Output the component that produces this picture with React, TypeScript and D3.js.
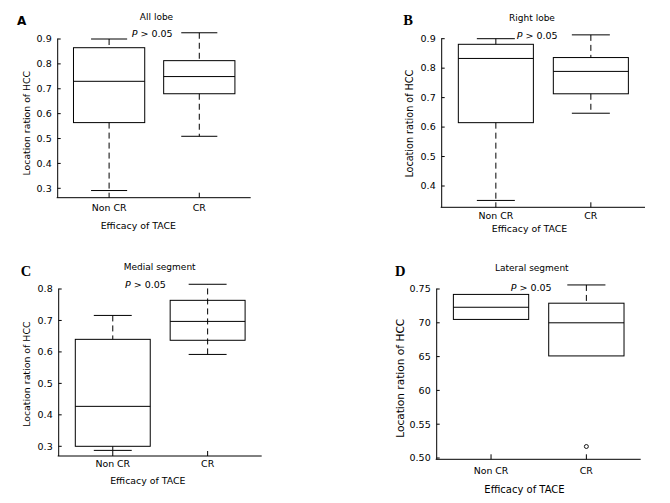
import React from "react";
import * as d3 from "d3";

// ---- data ----
const categories = ["Non CR", "CR"];
// [min, q1, median, q3, max]
const allLobeNonCR = [0.291, 0.564, 0.73, 0.865, 0.9];
const allLobeCR = [0.509, 0.68, 0.749, 0.813, 0.925];
const rightLobeNonCR = [0.351, 0.615, 0.833, 0.881, 0.9];
const rightLobeCR = [0.647, 0.713, 0.789, 0.836, 0.913];
const medialNonCR = [0.287, 0.3, 0.427, 0.64, 0.716];
const medialCR = [0.592, 0.637, 0.697, 0.764, 0.815];
const lateralNonCR = [0.705, 0.705, 0.723, 0.742, 0.742];
const lateralCR = [0.651, 0.651, 0.7, 0.729, 0.756];
const lateralCROutliers = [0.517];

const allLobeTicks = [0.3, 0.4, 0.5, 0.6, 0.7, 0.8, 0.9];
const allLobeTickLabels = ["0.3", "0.4", "0.5", "0.6", "0.7", "0.8", "0.9"];
const rightLobeTicks = [0.4, 0.5, 0.6, 0.7, 0.8, 0.9];
const rightLobeTickLabels = ["0.4", "0.5", "0.6", "0.7", "0.8", "0.9"];
const medialTicks = [0.3, 0.4, 0.5, 0.6, 0.7, 0.8];
const medialTickLabels = ["0.3", "0.4", "0.5", "0.6", "0.7", "0.8"];
const lateralTicks = [0.5, 0.55, 0.6, 0.65, 0.7, 0.75];
const lateralTickLabels = ["0.50", "0.55", "60", "65", "70", "0.75"];

const panelLetters = ["A", "B", "C", "D"];
const panelTitles = ["All lobe", "Right lobe", "Medial segment", "Lateral segment"];
const pText = "> 0.05";
const yTitle = "Location ration of HCC";
const xTitle = "Efficacy of TACE";

const FONT = "DejaVu Sans, Verdana, sans-serif";

type Panel = {
  letter: string; letterFont: string; letterSize: number; letterX: number; letterY: number;
  title: string; titleX: number; titleY: number;
  pX: number; pY: number;
  left: number; right: number; axisY: number;
  tickDomain: [number, number]; tickRange: [number, number];
  ticks: number[]; tickLabels: string[];
  boxes: number[][]; through: boolean[]; outliers: number[][];
  yLabelX: number; yLabelY: number; yLabelSize: number;
  xLabelX: number; xLabelY: number; xLabelSize: number;
  catLabelY: number;
};

const panels: Panel[] = [
  {
    letter: panelLetters[0], letterFont: "DejaVu Sans, sans-serif", letterSize: 12, letterX: 17, letterY: 25.3,
    title: panelTitles[0], titleX: 156.5, titleY: 20,
    pX: 131.7, pY: 36.5,
    left: 57.7, right: 250.7, axisY: 197.7,
    tickDomain: [0.3, 0.9], tickRange: [188.3, 39],
    ticks: allLobeTicks, tickLabels: allLobeTickLabels,
    boxes: [allLobeNonCR, allLobeCR], through: [false, false], outliers: [[], []],
    yLabelX: 26.7, yLabelY: 123.2, yLabelSize: 9.3,
    xLabelX: 138.3, xLabelY: 229, xLabelSize: 9.4,
    catLabelY: 211,
  },
  {
    letter: panelLetters[1], letterFont: "Liberation Serif, Times New Roman, serif", letterSize: 14.5, letterX: 403.3, letterY: 25,
    title: panelTitles[1], titleX: 532, titleY: 20.7,
    pX: 516.7, pY: 39.3,
    left: 441.7, right: 645, axisY: 207.3,
    tickDomain: [0.4, 0.9], tickRange: [186, 38.7],
    ticks: rightLobeTicks, tickLabels: rightLobeTickLabels,
    boxes: [rightLobeNonCR, rightLobeCR], through: [false, false], outliers: [[], []],
    yLabelX: 410, yLabelY: 123.7, yLabelSize: 9.6,
    xLabelX: 529.5, xLabelY: 232, xLabelSize: 9.4,
    catLabelY: 219,
  },
  {
    letter: panelLetters[2], letterFont: "Liberation Serif, Times New Roman, serif", letterSize: 14.5, letterX: 20.7, letterY: 276,
    title: panelTitles[2], titleX: 159.7, titleY: 270,
    pX: 125, pY: 288.3,
    left: 58.7, right: 261.7, axisY: 456,
    tickDomain: [0.3, 0.8], tickRange: [446.3, 289],
    ticks: medialTicks, tickLabels: medialTickLabels,
    boxes: [medialNonCR, medialCR], through: [false, true], outliers: [[], []],
    yLabelX: 26.7, yLabelY: 374.2, yLabelSize: 9.4,
    xLabelX: 147.8, xLabelY: 484, xLabelSize: 9.4,
    catLabelY: 467,
  },
  {
    letter: panelLetters[3], letterFont: "Liberation Serif, Times New Roman, serif", letterSize: 14.5, letterX: 395, letterY: 275.7,
    title: panelTitles[3], titleX: 531.8, titleY: 270.7,
    pX: 510.7, pY: 290.7,
    left: 436.7, right: 640.7, axisY: 459.3,
    tickDomain: [0.5, 0.75], tickRange: [458, 289],
    ticks: lateralTicks, tickLabels: lateralTickLabels,
    boxes: [lateralNonCR, lateralCR], through: [false, false], outliers: [[], lateralCROutliers],
    yLabelX: 400.3, yLabelY: 378.3, yLabelSize: 10.6,
    xLabelX: 524.5, xLabelY: 493, xLabelSize: 10,
    catLabelY: 474,
  },
];

function BoxPanel({ p }: { p: Panel }) {
  const x = d3.scalePoint<string>().domain(categories).range([p.left, p.right]).padding(0.57);
  const y = d3.scaleLinear().domain(p.tickDomain).range(p.tickRange);
  const step = x.step();
  const bw = step * 0.79;
  const cw = step * 0.4;
  const topY = y(p.ticks[p.ticks.length - 1]) - 0.5;
  const dash = "6,4";
  return (
    <g>
      <text x={p.letterX} y={p.letterY} style={{ fontFamily: p.letterFont }} fontWeight="bold" fontSize={p.letterSize}>{p.letter}</text>
      <text x={p.titleX} y={p.titleY} fontFamily={FONT} fontSize={9} textAnchor="middle">{p.title}</text>
      {/* axes */}
      <line x1={p.left} x2={p.left} y1={topY} y2={p.axisY} stroke="#000" strokeWidth={1} />
      <line x1={p.left - 1} x2={p.right} y1={p.axisY} y2={p.axisY} stroke="#000" strokeWidth={1} />
      {p.ticks.map((t, i) => (
        <g key={i}>
          <line x1={p.left} x2={p.left + 3} y1={y(t)} y2={y(t)} stroke="#000" />
          <text x={p.left - 6} y={y(t)} dy="0.35em" textAnchor="end" fontFamily={FONT} fontSize={9.5}>{p.tickLabels[i]}</text>
        </g>
      ))}
      {categories.map((c) => (
        <g key={c}>
          <line x1={x(c)!} x2={x(c)!} y1={p.axisY} y2={p.axisY - 5} stroke="#000" />
          <text x={x(c)!} y={p.catLabelY} textAnchor="middle" fontFamily={FONT} fontSize={9.4}>{c}</text>
        </g>
      ))}
      {/* boxes */}
      {p.boxes.map((b, i) => {
        const cx = x(categories[i])!;
        const [mn, q1, md, q3, mx] = b;
        return (
          <g key={i}>
            {p.through[i] ? (
              <line x1={cx} x2={cx} y1={y(mn)} y2={y(mx)} stroke="#000" strokeDasharray={dash} />
            ) : null}
            {!p.through[i] && mx > q3 ? (
              <line x1={cx} x2={cx} y1={y(mx)} y2={y(q3)} stroke="#000" strokeDasharray={dash} />
            ) : null}
            {!p.through[i] && mn < q1 ? (
              <line x1={cx} x2={cx} y1={y(q1)} y2={y(mn)} stroke="#000" strokeDasharray={dash} />
            ) : null}
            {mx > q3 ? <line x1={cx - cw / 2} x2={cx + cw / 2} y1={y(mx)} y2={y(mx)} stroke="#000" /> : null}
            {mn < q1 ? <line x1={cx - cw / 2} x2={cx + cw / 2} y1={y(mn)} y2={y(mn)} stroke="#000" /> : null}
            <rect x={cx - bw / 2} y={y(q3)} width={bw} height={y(q1) - y(q3)} fill="none" stroke="#000" />
            <line x1={cx - bw / 2} x2={cx + bw / 2} y1={y(md)} y2={y(md)} stroke="#000" />
            {p.outliers[i].map((o, k) => (
              <circle key={k} cx={cx} cy={y(o)} r={2} fill="none" stroke="#000" strokeWidth={0.9} />
            ))}
          </g>
        );
      })}
      {/* P text */}
      <text x={p.pX} y={p.pY} fontFamily={FONT} fontSize={9.5}>
        <tspan fontStyle="italic">P</tspan> {pText}
      </text>
      <text transform={`translate(${p.yLabelX},${p.yLabelY}) rotate(-90)`} textAnchor="middle" dy="0.35em" fontFamily={FONT} fontSize={p.yLabelSize}>{yTitle}</text>
      <text x={p.xLabelX} y={p.xLabelY} textAnchor="middle" fontFamily={FONT} fontSize={p.xLabelSize}>{xTitle}</text>
    </g>
  );
}

export default function App() {
  return (
    <svg width={670} height={503} style={{ position: "absolute", left: 0, top: 0, background: "#fff" }}>
      <rect x={0} y={0} width={670} height={503} fill="#fff" />
      {panels.map((p, i) => (
        <BoxPanel key={i} p={p} />
      ))}
    </svg>
  );
}
